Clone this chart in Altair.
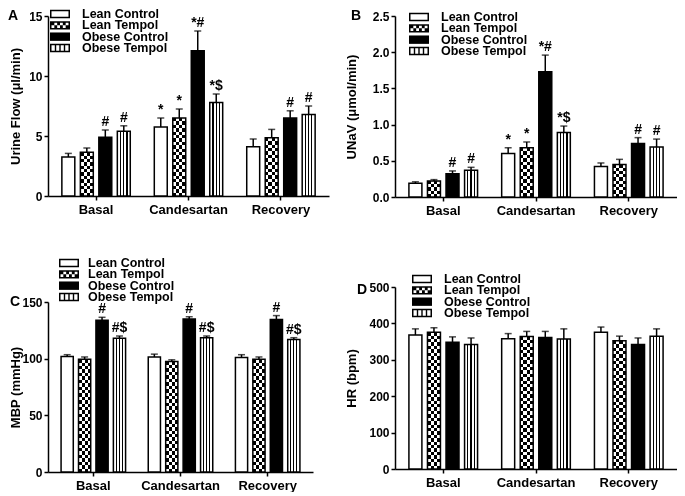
import altair as alt
import pandas as pd

periods = ["Basal", "Candesartan", "Recovery"]
groups = ["Lean Control", "Lean Tempol", "Obese Control", "Obese Tempol"]

# Panel A: Urine flow (ul/min) - means and SEM (upper whisker length)
a_lean_control = [3.25, 5.75, 4.1]
a_lean_tempol = [3.65, 6.5, 4.85]
a_obese_control = [4.9, 12.1, 6.5]
a_obese_tempol = [5.4, 7.8, 6.8]
a_err_lean_control = [0.3, 0.75, 0.65]
a_err_lean_tempol = [0.35, 0.75, 0.7]
a_err_obese_control = [0.6, 1.65, 0.6]
a_err_obese_tempol = [0.45, 0.7, 0.7]

# Panel B: UNaV (umol/min)
b_lean_control = [0.19, 0.60, 0.42]
b_lean_tempol = [0.22, 0.68, 0.45]
b_obese_control = [0.32, 1.73, 0.74]
b_obese_tempol = [0.37, 0.89, 0.69]
b_err_lean_control = [0.02, 0.08, 0.05]
b_err_lean_tempol = [0.02, 0.08, 0.07]
b_err_obese_control = [0.04, 0.23, 0.08]
b_err_obese_tempol = [0.04, 0.09, 0.11]

# Panel C: MBP (mmHg)
c_lean_control = [102, 101.5, 101]
c_lean_tempol = [99.5, 97.5, 99.5]
c_obese_control = [134, 135, 134.5]
c_obese_tempol = [118, 118.5, 117]
c_err_lean_control = [1.5, 2.5, 2.5]
c_err_lean_tempol = [2, 1.5, 2]
c_err_obese_control = [2.5, 2, 3.5]
c_err_obese_tempol = [2, 1.5, 1.5]

# Panel D: HR (bpm)
d_lean_control = [368, 358, 376]
d_lean_tempol = [376, 364, 352]
d_obese_control = [348, 361, 342]
d_obese_tempol = [342, 357, 365]
d_err_lean_control = [17, 14, 14]
d_err_lean_tempol = [12, 14, 13]
d_err_obese_control = [15, 17, 18]
d_err_obese_tempol = [18, 28, 20]

# significance marks
ab_ann_lean_control = ["", "*", ""]
ab_ann_lean_tempol = ["", "*", ""]
ab_ann_obese_control = ["#", "*#", "#"]
ab_ann_obese_tempol = ["#", "*$", "#"]
c_ann_lean_control = ["", "", ""]
c_ann_lean_tempol = ["", "", ""]
c_ann_obese_control = ["#", "#", "#"]
c_ann_obese_tempol = ["#$", "#$", "#$"]
d_ann_none = ["", "", ""]

FONT = "Liberation Sans"


def make_df(means, errs, anns):
    rows = []
    for g, m, e, a in zip(groups, means, errs, anns):
        for p, mv, ev, av in zip(periods, m, e, a):
            rows.append({"period": p, "group": g, "mean": mv, "top": mv + ev, "ann": av})
    return pd.DataFrame(rows)


def grad(stops, horizontal=True):
    st = [alt.GradientStop(offset=o, color=c) for o, c in stops]
    if horizontal:
        return alt.LinearGradient(gradient="linear", stops=st, x1=0, x2=1, y1=0, y2=0)
    return alt.LinearGradient(gradient="linear", stops=st, x1=0, x2=0, y1=0, y2=1)


def alt_stripes(n, horizontal=True):
    stops = []
    for i in range(n):
        c = "white" if i % 2 == 0 else "black"
        stops.append((i / n, c))
        stops.append(((i + 1) / n, c))
    return grad(stops, horizontal)


def thin_lines():
    stops = [(0, "white")]
    for c in (0.25, 0.5, 0.75):
        stops += [(c - 0.045, "white"), (c - 0.045, "black"), (c + 0.045, "black"), (c + 0.045, "white")]
    stops.append((1, "white"))
    return grad(stops, True)


def rect_path(x0, y0, x1, y1, cw=True):
    if cw:
        return f"M{x0:.3f},{y0:.3f}H{x1:.3f}V{y1:.3f}H{x0:.3f}Z"
    return f"M{x0:.3f},{y0:.3f}V{y1:.3f}H{x1:.3f}V{y0:.3f}Z"


FW, FH, T = 1.0, 0.42, 0.15
frame = rect_path(-FW, -FH, FW, FH) + rect_path(-FW + T, -FH + T, FW - T, FH - T, cw=False)
solid = rect_path(-FW, -FH, FW, FH)
checker = frame
ix0, ix1, iy0, iy1 = -FW + T, FW - T, -FH + T, FH - T
ncol, nrow = 6, 2
for r in range(nrow):
    for c in range(ncol):
        if (r + c) % 2 == 0:
            checker += rect_path(ix0 + (ix1 - ix0) * c / ncol, iy0 + (iy1 - iy0) * r / nrow,
                                 ix0 + (ix1 - ix0) * (c + 1) / ncol, iy0 + (iy1 - iy0) * (r + 1) / nrow)
lines = frame
for cx in (-0.45, 0.0, 0.45):
    lines += rect_path(cx - 0.07, iy0, cx + 0.07, iy1)
legend_shapes = [frame, checker, solid, lines]
legend_df = pd.DataFrame({"group": groups})


def panel(df, letter, ymax, ticks, fmt, ytitle, w, h, letter_xy, leg_sym_x, leg_text_x, leg_y,
          extent, title_pad):
    base = alt.Chart(df)
    x = alt.X("period:N", sort=periods,
              scale=alt.Scale(domain=periods, paddingInner=0.26, paddingOuter=0.15),
              axis=alt.Axis(title=None, labelAngle=0, labelFontSize=13, labelFontWeight="bold",
                            tickSize=4, tickWidth=1.5, domainWidth=1.5, labelPadding=3))
    xo = alt.XOffset("group:N", scale=alt.Scale(domain=groups, paddingInner=0.3))
    yaxis = alt.Axis(title=ytitle, values=ticks, format=fmt, grid=False, labelFontSize=12,
                     labelFontWeight="bold", tickSize=4, tickWidth=1.5, domainWidth=1.5,
                     labelPadding=2, minExtent=extent, maxExtent=extent, titlePadding=title_pad,
                     titleFontSize=13, titleFontWeight="bold")
    yscale = alt.Scale(domain=[0, ymax], nice=False, zero=True)
    y = alt.Y("mean:Q", scale=yscale, axis=yaxis)
    ytop = alt.Y("top:Q", scale=yscale, axis=yaxis)

    layers = []
    layers.append(base.transform_filter(alt.datum.group == "Lean Control")
                  .mark_bar(fill="white", stroke="black", strokeWidth=1.5).encode(x=x, xOffset=xo, y=y))
    layers.append(base.transform_filter(alt.datum.group == "Obese Control")
                  .mark_bar(fill="black", stroke="black", strokeWidth=1.5).encode(x=x, xOffset=xo, y=y))
    layers.append(base.transform_filter(alt.datum.group == "Obese Tempol")
                  .mark_bar(fill=thin_lines(), stroke="black", strokeWidth=1.5).encode(x=x, xOffset=xo, y=y))
    # checkerboard = vertical stripes XOR horizontal stripes
    layers.append(base.transform_filter(alt.datum.group == "Lean Tempol")
                  .mark_bar(fill=alt_stripes(4, True)).encode(x=x, xOffset=xo, y=y))
    lt = df[df.group == "Lean Tempol"]
    for _, row in lt.iterrows():
        hpx = row["mean"] / ymax * h
        n = max(2, int(round(hpx / 3.4)))
        layers.append(base.transform_filter((alt.datum.group == "Lean Tempol") & (alt.datum.period == row["period"]))
                      .mark_bar(fill=alt_stripes(n, False), blend="difference").encode(x=x, xOffset=xo, y=y))
    layers.append(base.transform_filter(alt.datum.group == "Lean Tempol")
                  .mark_bar(fill="white", fillOpacity=0, stroke="black", strokeWidth=1.5)
                  .encode(x=x, xOffset=xo, y=y))
    # error bars (upper whisker only)
    layers.append(base.mark_rule(color="black", strokeWidth=1.5)
                  .encode(x=x, xOffset=xo, y=y, y2="top:Q"))
    layers.append(base.mark_tick(color="black", thickness=1.5, size=7)
                  .encode(x=x, xOffset=xo, y=ytop))
    layers.append(base.mark_text(baseline="bottom", dy=-1, fontSize=14, fontWeight="bold", color="black")
                  .encode(x=x, xOffset=xo, y=ytop, text="ann:N"))
    main = alt.layer(*layers)

    # in-plot legend with its own row scale
    leg_scale = alt.Scale(type="point", domain=groups, range=[leg_y, leg_y + 34], padding=0)
    leg = alt.Chart(legend_df)
    leg_sym = leg.mark_point(filled=True, color="black", size=400, opacity=1, strokeWidth=0).encode(
        x=alt.value(leg_sym_x),
        y=alt.Y("group:N", scale=leg_scale, axis=None),
        shape=alt.Shape("group:N", scale=alt.Scale(domain=groups, range=legend_shapes), legend=None),
    )
    leg_txt = leg.mark_text(align="left", baseline="middle", fontSize=12.5, fontWeight="bold",
                            color="black").encode(
        x=alt.value(leg_text_x),
        y=alt.Y("group:N", scale=leg_scale, axis=None),
        text="group:N",
    )
    let = alt.Chart(pd.DataFrame({"t": [letter]})).mark_text(
        align="left", baseline="middle", fontSize=14, fontWeight="bold", color="black"
    ).encode(text="t:N", x=alt.value(letter_xy[0]), y=alt.value(letter_xy[1]))
    legend_layer = alt.layer(leg_sym, leg_txt, let)
    return alt.layer(main, legend_layer).resolve_scale(y="independent").properties(width=w, height=h)


dfA = make_df([a_lean_control, a_lean_tempol, a_obese_control, a_obese_tempol],
              [a_err_lean_control, a_err_lean_tempol, a_err_obese_control, a_err_obese_tempol],
              [ab_ann_lean_control, ab_ann_lean_tempol, ab_ann_obese_control, ab_ann_obese_tempol])
dfB = make_df([b_lean_control, b_lean_tempol, b_obese_control, b_obese_tempol],
              [b_err_lean_control, b_err_lean_tempol, b_err_obese_control, b_err_obese_tempol],
              [ab_ann_lean_control, ab_ann_lean_tempol, ab_ann_obese_control, ab_ann_obese_tempol])
dfC = make_df([c_lean_control, c_lean_tempol, c_obese_control, c_obese_tempol],
              [c_err_lean_control, c_err_lean_tempol, c_err_obese_control, c_err_obese_tempol],
              [c_ann_lean_control, c_ann_lean_tempol, c_ann_obese_control, c_ann_obese_tempol])
dfD = make_df([d_lean_control, d_lean_tempol, d_obese_control, d_obese_tempol],
              [d_err_lean_control, d_err_lean_tempol, d_err_obese_control, d_err_obese_tempol],
              [d_ann_none] * 4)

pA = panel(dfA, "A", 15, [0, 5, 10, 15], "d", "Urine Flow (μl/min)", 281, 180,
           (-40, 0), 12, 34, -2, 23, 3)
pB = panel(dfB, "B", 2.5, [0, 0.5, 1.0, 1.5, 2.0, 2.5], ".1f", "UNaV (μmol/min)", 282, 181,
           (-44, 0), 24, 46, 1, 21, 16)
pC = panel(dfC, "C", 150, [0, 50, 100, 150], "d", "MBP (mmHg)", 265, 170,
           (-38, 0), 21, 40, -39, 21, 5)
pD = panel(dfD, "D", 500, [0, 100, 200, 300, 400, 500], "d", "HR (bpm)", 282, 182,
           (-38, 3), 27, 49, -8, 19, 18)

ind = dict(x="independent", y="independent", xOffset="independent")
left = alt.vconcat(pA, pC, spacing=41).resolve_scale(**ind)
right = alt.vconcat(pB, pD, spacing=56).resolve_scale(**ind)
chart = alt.hconcat(left, right, spacing=16).resolve_scale(**ind).properties(padding=0).configure(
    font=FONT
).configure_view(stroke=None).configure_axis(
    domainColor="black", tickColor="black", labelColor="black", titleColor="black",
    labelFont=FONT, titleFont=FONT
).configure_text(font=FONT)

chart.save("out.html", embed_options={"renderer": "svg", "actions": False})
